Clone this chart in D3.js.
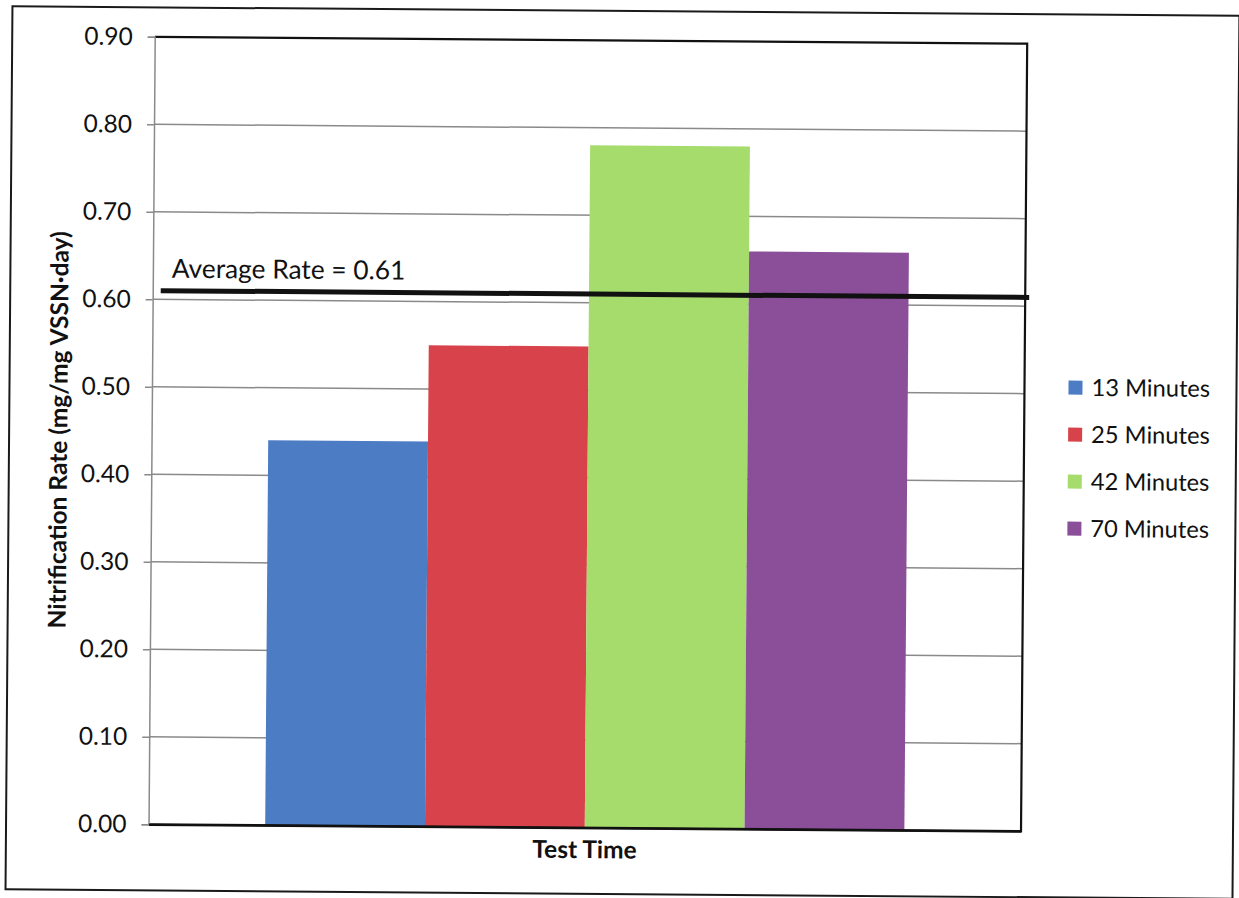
<!DOCTYPE html>
<html>
<head>
<meta charset="utf-8">
<script src="https://cdn.jsdelivr.net/npm/d3@7"></script>
<style>
  html, body { margin: 0; padding: 0; background: #fff; }
  svg { display: block; }
  text { font-family: Lato, "Open Sans", sans-serif; fill: #111; }
</style>
</head>
<body>
<svg id="chart" width="1239" height="898"></svg>
<script>
// Nitrification rate by test time
const categories = ["Test Time"];
const seriesNames = ["13 Minutes", "25 Minutes", "42 Minutes", "70 Minutes"];
const seriesValues = [0.44, 0.55, 0.78, 0.66];
const seriesColors = ["#4b7cc4", "#d8424b", "#a6dc6c", "#8a4f98"];
const yTicks = [0, 0.1, 0.2, 0.3, 0.4, 0.5, 0.6, 0.7, 0.8, 0.9];
const averageRate = 0.61;
const averageLabel = "Average Rate = 0.61";
const yTitle = "Nitrification Rate (mg/mg VSSN\u00b7day)";

const W = 1239, H = 898;
const plot = { left: 151.5, top: 40.5, right: 1024, bottom: 828 };

const svg = d3.select("#chart");
svg.append("rect").attr("width", W).attr("height", H).attr("fill", "#fff");

// whole sheet sits at a slight tilt
const root = svg.append("g").attr("transform", "rotate(0.45 620 449)");

// outer chart frame
root.append("rect")
  .attr("x", 9).attr("y", 11).attr("width", 1227).attr("height", 883)
  .attr("fill", "none").attr("stroke", "#1a1a1a").attr("stroke-width", 2);

const y = d3.scaleLinear().domain([0, 0.9]).range([plot.bottom, plot.top]);
const x0 = d3.scaleBand().domain(categories).range([plot.left, plot.right]).padding(0);
const x1 = d3.scaleBand().domain(seriesNames).range([0, x0.bandwidth()])
  .paddingInner(0).paddingOuter(0.73);

// horizontal gridlines
root.append("g")
  .selectAll("line")
  .data(yTicks.filter(d => d > 0 && d < 0.9))
  .join("line")
  .attr("x1", plot.left).attr("x2", plot.right)
  .attr("y1", d => y(d)).attr("y2", d => y(d))
  .attr("stroke", "#8a8a8a").attr("stroke-width", 1.5);

// bars
const group = root.append("g")
  .selectAll("g")
  .data(categories)
  .join("g")
  .attr("transform", d => `translate(${x0(d)},0)`);

group.selectAll("rect")
  .data(seriesNames.map((s, i) => ({ s, v: seriesValues[i], c: seriesColors[i] })))
  .join("rect")
  .attr("x", d => x1(d.s))
  .attr("width", x1.bandwidth())
  .attr("y", d => y(d.v))
  .attr("height", d => y(0) - y(d.v))
  .attr("fill", d => d.c);

// plot border (top, right, bottom)
root.append("path")
  .attr("d", `M${plot.left},${plot.top}H${plot.right}V${plot.bottom}H${plot.left}`)
  .attr("fill", "none").attr("stroke", "#111").attr("stroke-width", 2.2);

// value axis
const yAxis = root.append("g")
  .attr("transform", `translate(${plot.left},0)`)
  .call(d3.axisLeft(y).tickValues(yTicks).tickFormat(d3.format(".2f"))
    .tickSize(7).tickPadding(15));
yAxis.select(".domain").attr("stroke", "#8a8a8a").attr("stroke-width", 1.5);
yAxis.selectAll(".tick line").attr("stroke", "#8a8a8a").attr("stroke-width", 1.5);
yAxis.selectAll("text").attr("font-size", 24.5).attr("fill", "#111")
  .style("font-family", "Lato, sans-serif");

// category axis
const xAxis = root.append("g")
  .attr("transform", `translate(0,${plot.bottom})`)
  .call(d3.axisBottom(x0).tickSize(0).tickPadding(13));
xAxis.select(".domain").attr("stroke", "#111").attr("stroke-width", 2.2);
xAxis.selectAll("text").attr("font-size", 24.5).attr("font-weight", "bold").attr("fill", "#111")
  .style("font-family", "Lato, sans-serif");

// axis title
root.append("text")
  .attr("transform", `translate(67,${(plot.top + plot.bottom) / 2}) rotate(-90)`)
  .attr("text-anchor", "middle")
  .attr("font-size", 24.5).attr("font-weight", "bold")
  .text(yTitle);

// average rate line and label
const yAvg = y(averageRate);
root.append("line")
  .attr("x1", plot.left + 8).attr("x2", plot.right + 4)
  .attr("y1", yAvg).attr("y2", yAvg)
  .attr("stroke", "#111").attr("stroke-width", 5);
root.append("text")
  .attr("x", plot.left + 19).attr("y", yAvg - 13)
  .attr("font-size", 26.3)
  .text(averageLabel);

// legend
const legend = root.append("g").attr("transform", "translate(1068,384)");
const item = legend.selectAll("g")
  .data(seriesNames)
  .join("g")
  .attr("transform", (d, i) => `translate(0,${i * 47})`);
item.append("rect")
  .attr("x", 0).attr("y", -7).attr("width", 14).attr("height", 14)
  .attr("fill", (d, i) => seriesColors[i]);
item.append("text")
  .attr("x", 23).attr("y", 0).attr("dy", "0.35em")
  .attr("font-size", 23.7)
  .text(d => d);
</script>
</body>
</html>
